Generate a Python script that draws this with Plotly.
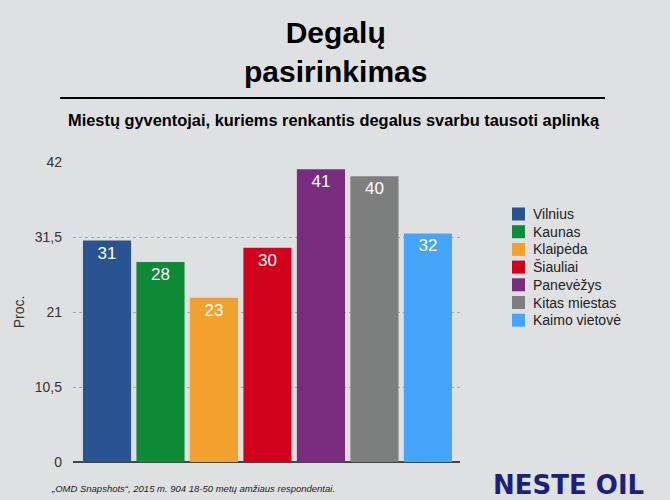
import plotly.graph_objects as go

cities = ["Vilnius", "Kaunas", "Klaipėda", "Šiauliai", "Panevėžys", "Kitas miestas", "Kaimo vietovė"]
values = [31, 28, 23, 30, 41, 40, 32]
colors = ["#285592", "#0F8A38", "#F0A12E", "#D0021B", "#7A2D7F", "#7D7F7E", "#45A5FA"]
tick_vals = [0, 10.5, 21, 31.5, 42]

BG = "#dfe0e1"
FONT = "Liberation Sans, Arial, sans-serif"

# plot area in pixels: x 73..460, y 162..462
def px(x):
    return (x - 73) / 387

def py(y):
    return (462 - y) / 300

fig = go.Figure()
for name, v, c in zip(cities, values, colors):
    fig.add_trace(go.Bar(
        x=[name], y=[v], name=name,
        marker=dict(color=c, line=dict(width=0)),
        width=0.9,
        text=[str(v)], textposition="inside", insidetextanchor="end",
        textfont=dict(color="white", size=17, family=FONT),
        textangle=0,
    ))

fig.update_layout(
    width=670, height=500,
    paper_bgcolor=BG, plot_bgcolor=BG,
    barmode="overlay",
    separators=",.",
    margin=dict(l=73, r=210, t=162, b=38),
    font=dict(family=FONT, color="#333333"),
    showlegend=False,
)
fig.update_xaxes(showticklabels=False, showgrid=False, zeroline=False, showline=False,
                 ticks="", range=[-0.636, 6.6])
fig.update_yaxes(range=[0, 42], tickvals=tick_vals, tickformat=",.1~f",
                 showgrid=True, gridcolor="#a8a8a8", griddash="dot", gridwidth=1,
                 zeroline=True, zerolinecolor="#444444", zerolinewidth=1.5,
                 tickfont=dict(size=14, color="#333333"), ticklabelstandoff=10,
                 title=dict(text="Proc.", font=dict(size=14, color="#333333"), standoff=6))

# legend drawn by hand to match the tight row spacing
for i, (name, c) in enumerate(zip(cities, colors)):
    yc = 214 + i * 17.7
    fig.add_shape(type="rect", xref="paper", yref="paper",
                  x0=px(512), x1=px(525), y0=py(yc + 6.5), y1=py(yc - 6.5),
                  fillcolor=c, line=dict(width=0))
    fig.add_annotation(text=name, xref="paper", yref="paper",
                       x=px(531), y=py(yc), xanchor="left", yanchor="middle",
                       showarrow=False, font=dict(size=14, color="#222222", family=FONT))

fig.add_annotation(text="<b>Degalų<br>pasirinkimas</b>", xref="paper", yref="paper",
                   x=px(335), y=py(52), xanchor="center", yanchor="middle",
                   showarrow=False, font=dict(size=30, color="#000000", family=FONT))
fig.add_shape(type="line", xref="paper", yref="paper",
              x0=px(60), x1=px(605), y0=py(98), y1=py(98),
              line=dict(color="#000000", width=2))
fig.add_annotation(text="<b>Miestų gyventojai, kuriems renkantis degalus svarbu tausoti aplinką</b>",
                   xref="paper", yref="paper",
                   x=px(334), y=py(120), xanchor="center", yanchor="middle",
                   showarrow=False, font=dict(size=16.4, color="#000000", family=FONT))
fig.add_annotation(text="<i>„OMD Snapshots“, 2015 m. 904 18-50 metų amžiaus respondentai.</i>",
                   xref="paper", yref="paper",
                   x=px(49), y=py(488), xanchor="left", yanchor="middle",
                   showarrow=False, font=dict(size=9.5, color="#222222", family=FONT))
fig.add_annotation(text="<b>NESTE OIL</b>", xref="paper", yref="paper",
                   x=px(646), y=py(485), xanchor="right", yanchor="middle",
                   showarrow=False, font=dict(size=26, color="#1c1f7c", family="DejaVu Sans, sans-serif"))

fig.write_html("out.html", config={"displayModeBar": False},
               post_script="document.body.style.margin='0';")
